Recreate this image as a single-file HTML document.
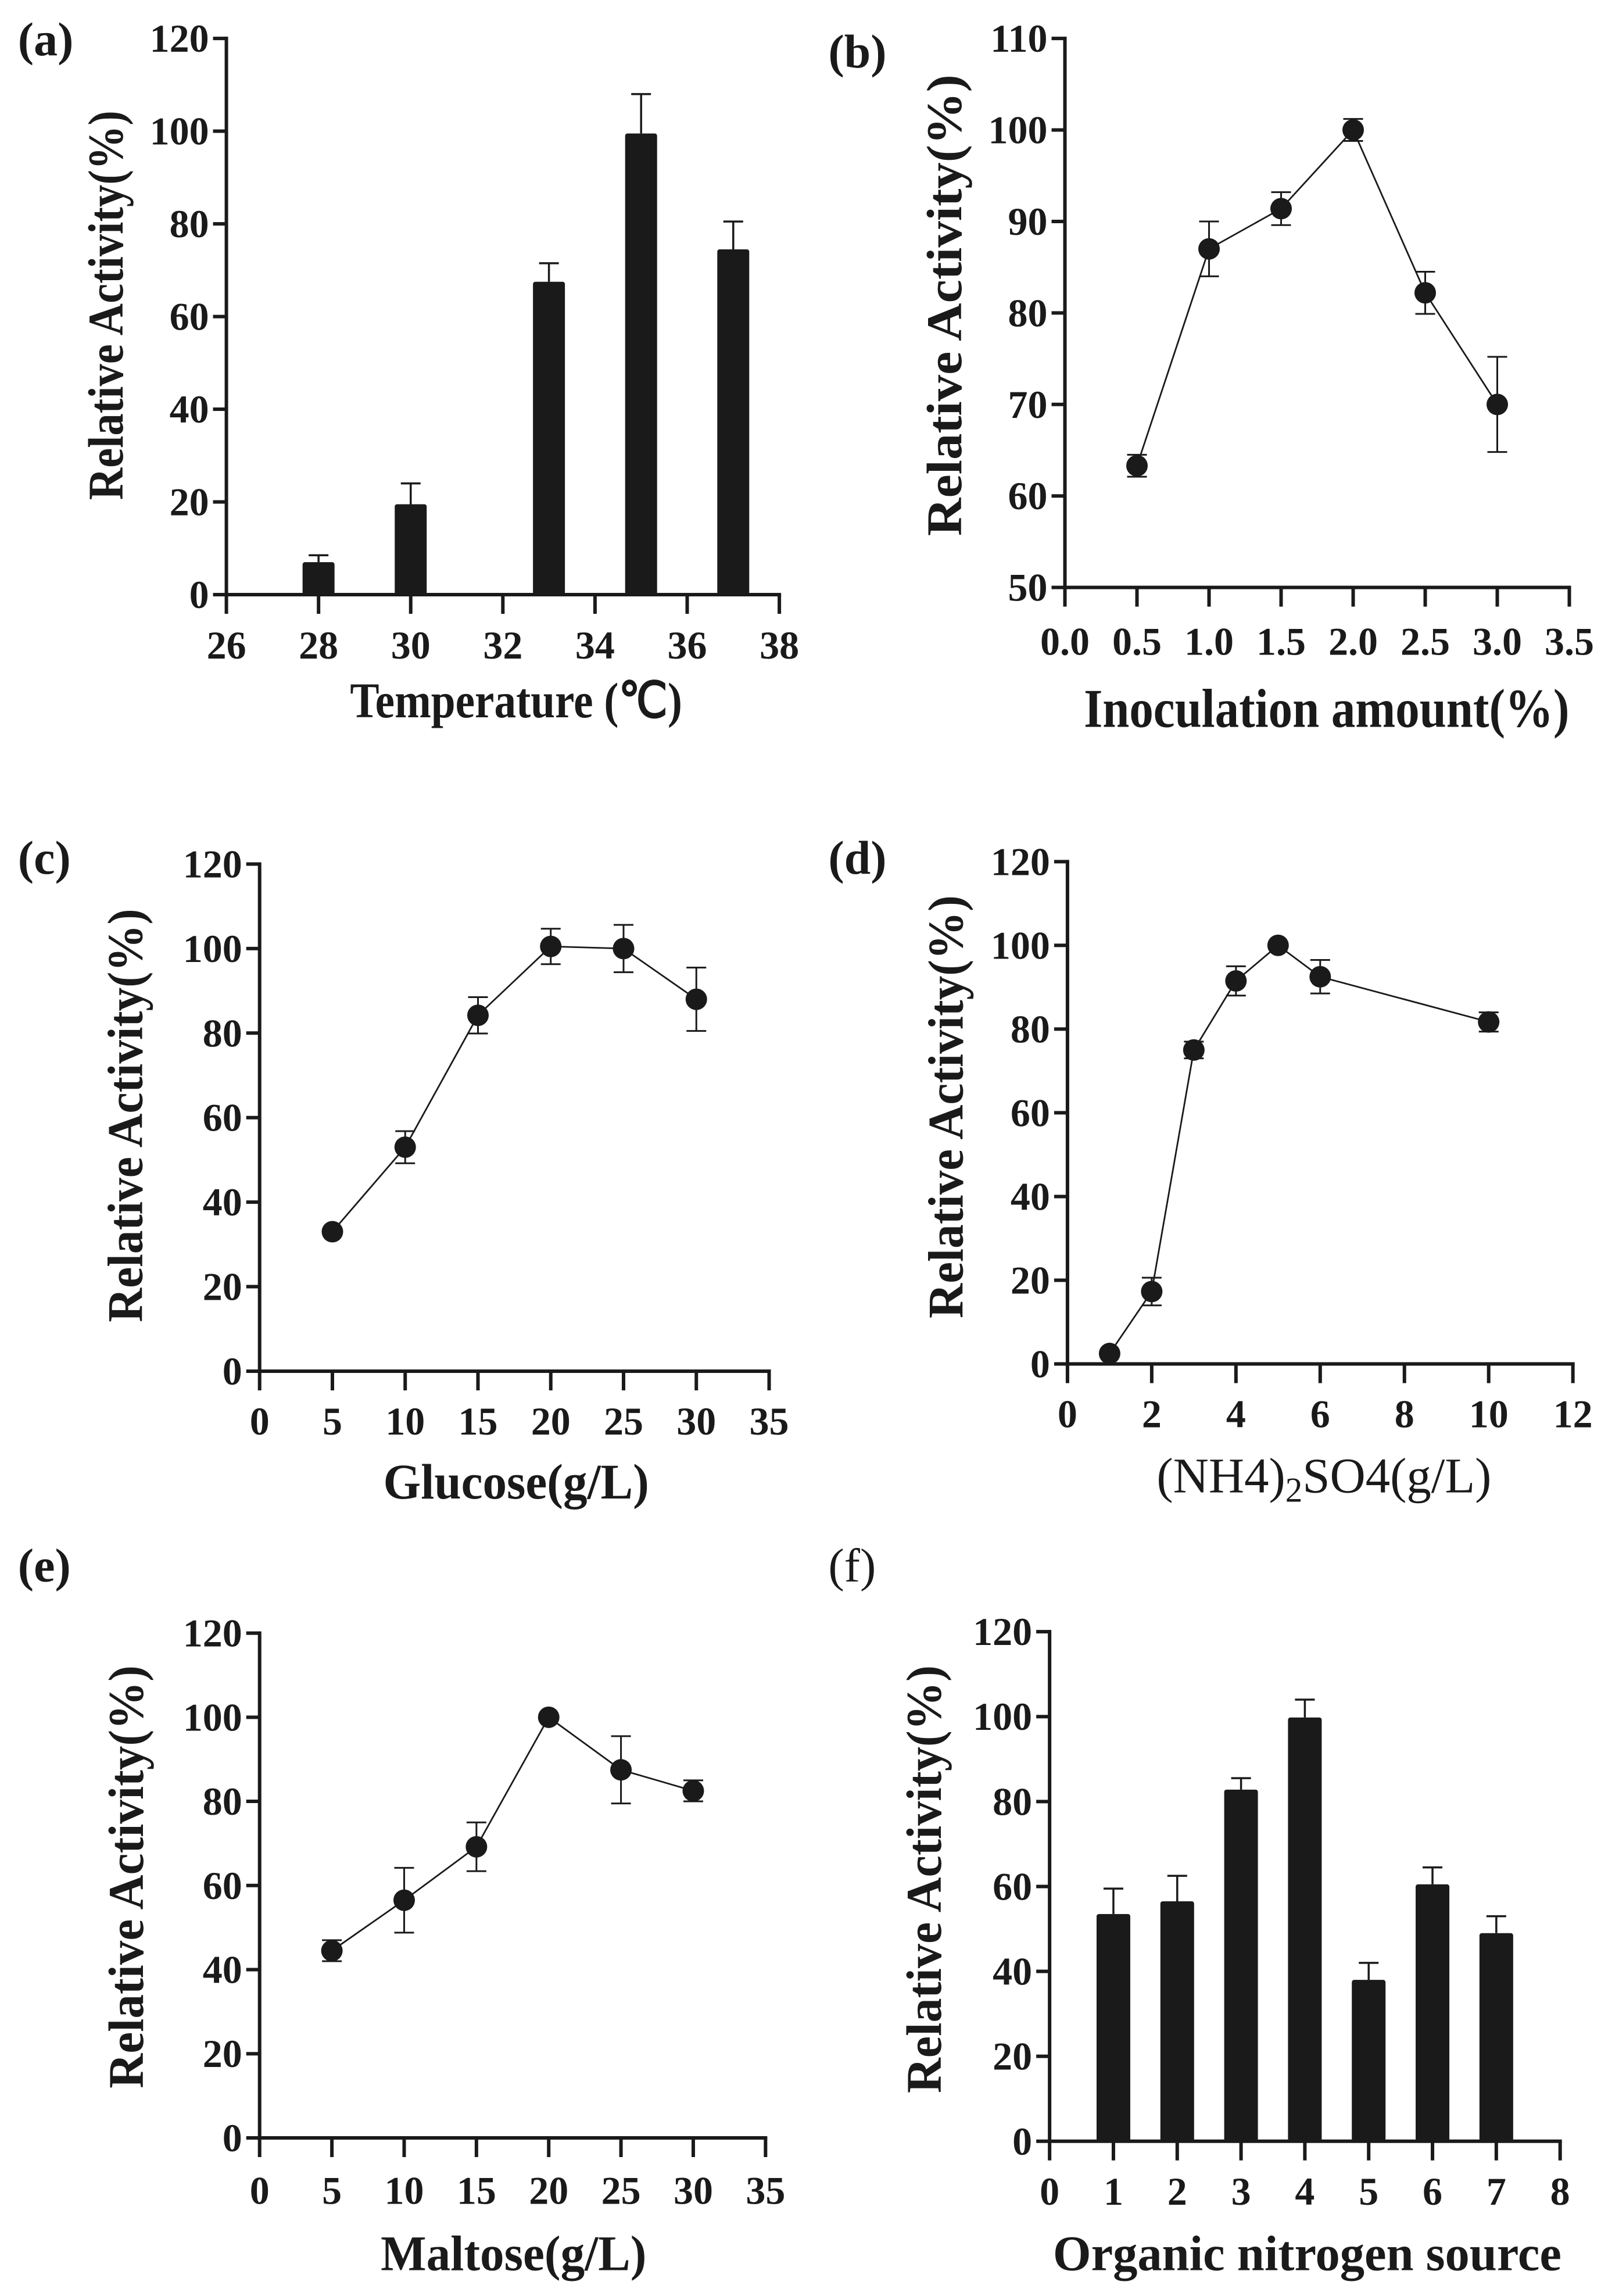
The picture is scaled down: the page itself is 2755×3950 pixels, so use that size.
<!DOCTYPE html>
<html><head><meta charset="utf-8">
<style>
html,body{margin:0;padding:0;background:#fff;}
body{width:2755px;height:3950px;position:relative;overflow:hidden;}
svg{position:absolute;overflow:visible;}
text{font-family:"Liberation Serif",serif;fill:#1a1a1a;}
</style></head>
<body>
<div id="root"></div>
<script>
// ---- data ----
const aCats = [28, 30, 33, 35, 37];
const aVals = [7, 19.5, 67.5, 99.5, 74.5];
const aErr = [1.5, 4.5, 4, 8.5, 6];
const aXTicks = [26, 28, 30, 32, 34, 36, 38];
const aYTicks = [0, 20, 40, 60, 80, 100, 120];

const bX = [0.5, 1.0, 1.5, 2.0, 2.5, 3.0];
const bVals = [63.3, 87, 91.4, 100, 82.2, 70];
const bErr = [1.2, 3, 1.8, 1.2, 2.3, 5.2];
const bXTicks = ["0.0", "0.5", "1.0", "1.5", "2.0", "2.5", "3.0", "3.5"];
const bYTicks = [50, 60, 70, 80, 90, 100, 110];

const cX = [5, 10, 15, 20, 25, 30];
const cVals = [33, 53, 84.2, 100.5, 100, 88];
const cErr = [0, 3.8, 4.3, 4.2, 5.6, 7.5];
const cXTicks = [0, 5, 10, 15, 20, 25, 30, 35];
const cYTicks = [0, 20, 40, 60, 80, 100, 120];

const dX = [1, 2, 3, 4, 5, 6, 10];
const dVals = [2.5, 17.3, 75, 91.5, 100, 92.5, 81.7];
const dErr = [0, 3.3, 2, 3.5, 0.5, 4, 2.3];
const dXTicks = [0, 2, 4, 6, 8, 10, 12];
const dYTicks = [0, 20, 40, 60, 80, 100, 120];

const eX = [5, 10, 15, 20, 25, 30];
const eVals = [44.5, 56.5, 69.2, 100, 87.5, 82.5];
const eErr = [2.5, 7.7, 5.8, 0, 8, 2.5];
const eXTicks = [0, 5, 10, 15, 20, 25, 30, 35];
const eYTicks = [0, 20, 40, 60, 80, 100, 120];

const fCats = [1, 2, 3, 4, 5, 6, 7];
const fVals = [53.5, 56.5, 82.8, 99.8, 38, 60.5, 49];
const fErr = [6, 6, 2.7, 4.2, 4, 4, 4];
const fXTicks = [0, 1, 2, 3, 4, 5, 6, 7, 8];
const fYTicks = [0, 20, 40, 60, 80, 100, 120];

// ---- drawing ----
const NS = "http://www.w3.org/2000/svg";
const SX = 0.8794, SY = 0.827;
function mk(tag, attrs, parent) {
  const e = document.createElementNS(NS, tag);
  for (const k in attrs) e.setAttribute(k, attrs[k]);
  if (parent) parent.appendChild(e);
  return e;
}
function panel(cfg) {
  const svg = mk("svg", {width: 1377, height: 1300});
  svg.style.left = cfg.ox + "px"; svg.style.top = cfg.oy + "px";
  
  
  document.body.appendChild(svg);
  const x0 = cfg.x0 * SX, x1 = cfg.x1 * SX, yt = cfg.yt * SY, yb = cfg.yb * SY;
  const X = v => x0 + (v - cfg.xmin) / (cfg.xmax - cfg.xmin) * (x1 - x0);
  const Y = v => yb + (v - cfg.ymin) / (cfg.ymax - cfg.ymin) * (yt - yb);
  const col = "#1a1a1a";
  const pl = mk("text", {x: cfg.lx * SX, y: cfg.ly * SY, "font-size": 82, "font-weight": cfg.lbold ? "bold" : "normal"}, svg);
  pl.textContent = cfg.label;
  
  
  if (cfg.type === "bar") {
    cfg.xs.forEach((c, i) => {
      const v = cfg.vals[i], x = X(c), w = cfg.bw;
      const eb = mk("path", {d: `M${x} ${Y(v)} V${Y(v + cfg.err[i])} M${x - 17} ${Y(v + cfg.err[i])} H${x + 17}`, stroke: col, "stroke-width": 3.5, fill: "none"}, svg);
      
      
      const r = mk("rect", {x: x - w / 2, y: Y(v), width: w, height: Y(cfg.ymin) - Y(v), fill: col, rx: 4}, svg);
      
      
    });
  } else {
    const pts = cfg.xs.map((c, i) => X(c) + "," + Y(cfg.vals[i])).join(" ");
    const ln = mk("polyline", {points: pts, fill: "none", stroke: col, "stroke-width": 2.8}, svg);
    
    
    cfg.xs.forEach((c, i) => {
      const v = cfg.vals[i], e = cfg.err[i], x = X(c);
      if (e > 0) {
        const eb = mk("path", {d: `M${x} ${Y(v - e)} V${Y(v + e)} M${x - 17} ${Y(v + e)} H${x + 17} M${x - 17} ${Y(v - e)} H${x + 17}`, stroke: col, "stroke-width": 3, fill: "none"}, svg);
        
        
      }
      const p = mk("circle", {cx: x, cy: Y(v), r: 18.5, fill: col}, svg);
      
      
    });
  }
  const ax = mk("path", {d: `M${x0} ${yt} V${yb} H${x1}`, stroke: col, "stroke-width": 6, fill: "none", "stroke-linecap": "square"}, svg);
  
  
  cfg.yticks.forEach(t => {
    const y = Y(t);
    const tk = mk("line", {x1: x0 - 23, x2: x0, y1: y, y2: y, stroke: col, "stroke-width": 6}, svg);
    
    
    const tl = mk("text", {x: x0 - 30, y: y + 23, "font-size": 68, "font-weight": "bold", "text-anchor": "end"}, svg);
    tl.textContent = t;
    
    
  });
  cfg.xticks.forEach(t => {
    const x = X(parseFloat(t));
    const tk = mk("line", {x1: x, x2: x, y1: yb, y2: yb + 33, stroke: col, "stroke-width": 6}, svg);
    
    
    const tl = mk("text", {x: x, y: cfg.xtb * SY, "font-size": 68, "font-weight": "bold", "text-anchor": "middle"}, svg);
    tl.textContent = t;
    
    
  });
  const ytt = mk("text", {x: 0, y: 0, "font-size": 86, "font-weight": "bold", "text-anchor": "middle",
    transform: `translate(${cfg.ylx * SX},${cfg.ylc * SY}) rotate(-90)`, textLength: cfg.yll * SY, lengthAdjust: "spacingAndGlyphs"}, svg);
  ytt.textContent = "Relative Activity(%)";
  
  
  const xt = mk("text", {x: cfg.xlc * SX, y: cfg.xlb * SY, "font-size": cfg.xlfs || 86, "font-weight": cfg.xlbold === false ? "normal" : "bold", "text-anchor": "middle",
    textLength: cfg.xll * SX, lengthAdjust: "spacingAndGlyphs"}, svg);
  if (cfg.xlhtml) xt.innerHTML = cfg.xlhtml; else xt.textContent = cfg.xlabel;
  
  
}

panel({name: "panel-a-temperature", ox: 0, oy: 0, type: "bar", label: "(a)", lbold: true, lx: 35, ly: 115,
  x0: 443, x1: 1525, xmin: 26, xmax: 38, yt: 80, yb: 1237, ymin: 0, ymax: 120, bw: 55,
  xs: aCats, vals: aVals, err: aErr, xticks: aXTicks, yticks: aYTicks, xtb: 1370,
  ylx: 240, ylc: 635, yll: 810, xlc: 1010, xlb: 1492, xll: 650, xlabel: "Temperature (\u2103)"});
panel({name: "panel-b-inoculation", ox: 1377, oy: 0, type: "line", label: "(b)", lbold: true, lx: 55, ly: 140,
  x0: 518, x1: 1505, xmin: 0, xmax: 3.5, yt: 80, yb: 1222, ymin: 50, ymax: 110,
  xs: bX, vals: bVals, err: bErr, xticks: bXTicks, yticks: bYTicks, xtb: 1362,
  ylx: 315, ylc: 635, yll: 960, xlc: 1030, xlb: 1512, xll: 950, xlfs: 94, xlabel: "Inoculation amount(%)"});
panel({name: "panel-c-glucose", ox: 0, oy: 1350, type: "line", label: "(c)", lbold: true, lx: 35, ly: 185,
  x0: 508, x1: 1505, xmin: 0, xmax: 35, yt: 165, yb: 1220, ymin: 0, ymax: 120,
  xs: cX, vals: cVals, err: cErr, xticks: cXTicks, yticks: cYTicks, xtb: 1352,
  ylx: 278, ylc: 688, yll: 860, xlc: 1010, xlb: 1485, xll: 520, xlabel: "Glucose(g/L)"});
panel({name: "panel-d-ammonium-sulfate", ox: 1377, oy: 1350, type: "line", label: "(d)", lbold: true, lx: 55, ly: 185,
  x0: 523, x1: 1512, xmin: 0, xmax: 12, yt: 160, yb: 1205, ymin: 0, ymax: 120,
  xs: dX, vals: dVals, err: dErr, xticks: dXTicks, yticks: dYTicks, xtb: 1337,
  ylx: 318, ylc: 670, yll: 880, xlc: 1025, xlb: 1472, xll: 655, xlbold: false,
  xlhtml: '(NH4)<tspan dy="16" font-size="60">2</tspan><tspan dy="-16">SO4(g/L)</tspan>'});
panel({name: "panel-e-maltose", ox: 0, oy: 2650, type: "line", label: "(e)", lbold: true, lx: 35, ly: 85,
  x0: 508, x1: 1498, xmin: 0, xmax: 35, yt: 193, yb: 1243, ymin: 0, ymax: 120,
  xs: eX, vals: eVals, err: eErr, xticks: eXTicks, yticks: eYTicks, xtb: 1380,
  ylx: 280, ylc: 700, yll: 880, xlc: 1005, xlb: 1518, xll: 520, xlabel: "Maltose(g/L)"});
panel({name: "panel-f-organic-nitrogen", ox: 1377, oy: 2650, type: "bar", label: "(f)", lbold: false, lx: 55, ly: 85,
  x0: 488, x1: 1487, xmin: 0, xmax: 8, yt: 190, yb: 1250, ymin: 0, ymax: 120, bw: 58,
  xs: fCats, vals: fVals, err: fErr, xticks: fXTicks, yticks: fYTicks, xtb: 1382,
  ylx: 275, ylc: 705, yll: 890, xlc: 992, xlb: 1518, xll: 995, xlabel: "Organic nitrogen source"})
</script>
</body></html>
